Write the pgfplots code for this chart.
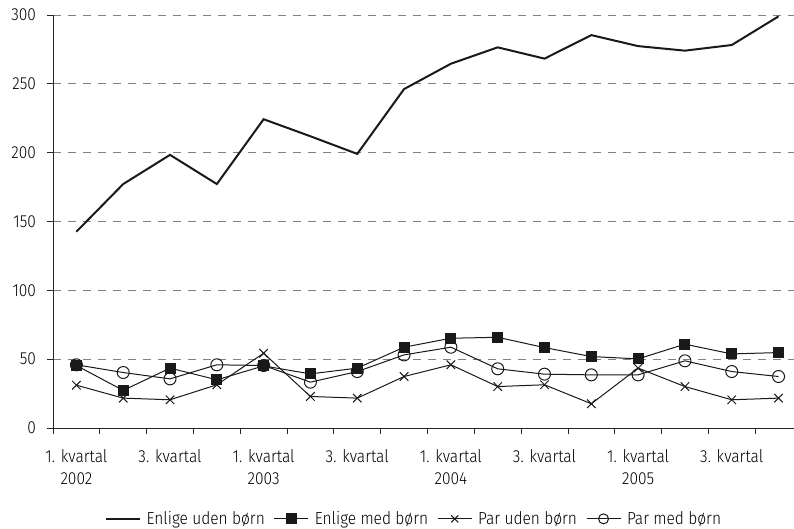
\documentclass[border=0pt]{standalone}
\usepackage{pgfplots}
\pgfplotsset{compat=1.18}
\usepackage{fontspec}
\setmainfont{Fira Sans Light}[FakeStretch=0.89]
\begin{document}
\fontsize{17.5}{21}\selectfont
\begin{tikzpicture}
\begin{axis}[
  scale only axis,
  width=741bp, height=413bp,
  xmin=-0.5, xmax=15.33,
  ymin=0, ymax=300,
  axis x line=bottom, axis y line=left,
  axis line style={-, line width=0.8bp, color=black!85},
  /pgf/number format/assume math mode=true,
  ytick={0,50,...,300},
  ymajorgrids,
  grid style={gray, line width=0.9bp, dash pattern=on 8bp off 7bp},
  xtick={0,2,...,14},
  xticklabels={{1. kvartal\\2002},{3. kvartal},{1. kvartal\\2003},{3. kvartal},{1. kvartal\\2004},{3. kvartal},{1. kvartal\\2005},{3. kvartal}},
  xticklabel style={align=center, font=\fontsize{17.5}{21.6}\selectfont, yshift=-10bp},
  yticklabel style={font=\fontsize{17.5}{21}\selectfont, xshift=-5bp},
  major x tick style={draw=none},
  minor xtick={-0.5,0.5,...,15.5},
  minor tick length=6bp, major tick length=6bp,
  tick align=outside,
  tick style={black!85, line width=0.8bp},
  clip=false,
  legend style={at={(0.487,-0.22)}, anchor=center, draw=none, legend columns=4,
    font=\fontsize{17.5}{21}\selectfont, inner sep=0pt,
    /tikz/every odd column/.append style={column sep=4bp},
    /tikz/every even column/.append style={column sep=7bp}},
  legend image code/.code={\draw[mark repeat=2,mark phase=2,#1] plot coordinates {(0bp,0bp) (17bp,0bp) (34bp,0bp)};},
  legend image post style={mark size=5bp},
]
\coordinate (bl) at (rel axis cs:0,0);
\coordinate (tr) at (rel axis cs:1,1);
\addplot[line width=2bp, color=black!90] coordinates {
(0,142.6) (1,177.2) (2,198.4) (3,177.2) (4,224.3) (5,211.9) (6,199.1) (7,246.2)
(8,264.6) (9,276.5) (10,268.3) (11,285.4) (12,277.4) (13,274.1) (14,278.2) (15,299)};
\addlegendentry{Enlige uden børn}
\addplot[line width=1bp, color=black!90, mark=square*, mark size=5bp, mark options={fill=black!90}] coordinates {
(0,45.4) (1,27.3) (2,43.5) (3,35) (4,45.1) (5,39.3) (6,43.5) (7,58.7)
(8,65.2) (9,65.9) (10,58.4) (11,51.9) (12,50.2) (13,60.9) (14,53.8) (15,54.8)};
\addlegendentry{Enlige med børn}
\addplot[line width=1bp, color=black!90, mark=x, mark size=6bp] coordinates {
(0,31.1) (1,21.7) (2,20.5) (3,31.4) (4,54.3) (5,22.9) (6,21.7) (7,37.4)
(8,45.9) (9,30.1) (10,31.4) (11,17.6) (12,43.5) (13,30.1) (14,20.5) (15,21.7)};
\addlegendentry{Par uden børn}
\addplot[line width=1bp, color=black!90, mark=o, mark size=6bp] coordinates {
(0,45.9) (1,40.3) (2,35.7) (3,45.9) (4,45.4) (5,33.3) (6,41) (7,53.1)
(8,58.7) (9,43) (10,39.1) (11,38.6) (12,38.6) (13,48.8) (14,41) (15,37.4)};
\addlegendentry{Par med børn}
\end{axis}
\pgfresetboundingbox
\useasboundingbox ([shift={(-53bp,-101bp)}]bl) rectangle ([shift={(0bp,15bp)}]tr);
\end{tikzpicture}
\end{document}
